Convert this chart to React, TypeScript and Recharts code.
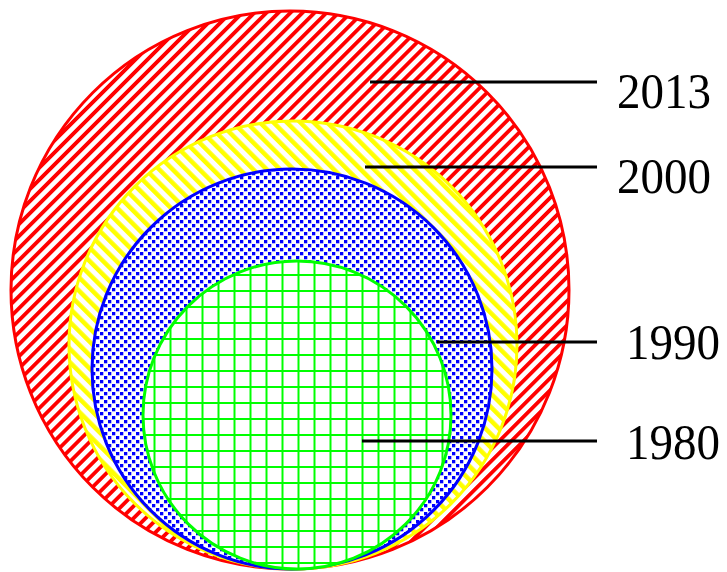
import React from 'react';
import { ScatterChart, Scatter, XAxis, YAxis, ZAxis } from 'recharts';

// ---- data ----
const YEARS = ['2013', '2000', '1990', '1980'];
const RADIUS = [279, 224, 200, 154];          // bubble radius (value units)
const CENTER_X = [290, 293, 292, 297];        // bubble centre along x (value units)
const BASE_Y = 3;                              // all bubbles rest on this baseline
const FILLS = ['url(#pRed)', 'url(#pYellow)', 'url(#pBlue)', 'url(#pGreen)'];
const STROKES = ['#ff0000', '#ffff00', '#0000ff', '#00ff00'];

// label leader lines (value units)
const LEADER_Y = [490, 405, 230, 131];
const LEADER_START = [370, 365, 437, 362];
const LEADER_END = 597;
const LABEL_X = [617, 617, 626, 626];
const LABEL_Y = [464, 379, 213, 113];

const W = 727;
const H = 572;
const MAX_R = Math.max(...RADIUS);

const bubbles = YEARS.map((year, i) => ({
  year,
  x: CENTER_X[i],
  y: BASE_Y + RADIUS[i],
  z: RADIUS[i] * RADIUS[i],
  fill: FILLS[i],
  stroke: STROKES[i],
}));

const leaders = YEARS.map((year, i) => [
  { x: LEADER_START[i], y: LEADER_Y[i] },
  { x: LEADER_END, y: LEADER_Y[i] },
]);

const labels = YEARS.map((year, i) => ({ year, x: LABEL_X[i], y: LABEL_Y[i] }));

const BubbleShape = (props: any) => {
  const { cx, cy, payload } = props;
  const r = props.width != null ? props.width / 2 : Math.sqrt((props.size || 0) / Math.PI);
  return (
    <g>
      <circle cx={cx} cy={cy} r={r} fill="#ffffff" />
      <circle cx={cx} cy={cy} r={r} fill={payload.fill} stroke={payload.stroke} strokeWidth={3} />
    </g>
  );
};

const EmptyShape = () => <g />;

const LabelShape = (props: any) => {
  const { cx, cy, payload } = props;
  return (
    <text
      x={cx}
      y={cy}
      fontFamily="'Liberation Serif', 'Times New Roman', serif"
      fontSize={51}
      textLength={94}
      lengthAdjust="spacingAndGlyphs"
      fill="#000"
    >
      {payload.year}
    </text>
  );
};

export default function App() {
  return (
    <div style={{ position: 'absolute', left: 0, top: 0, width: W, height: H, background: '#fff' }}>
      <ScatterChart width={W} height={H} margin={{ top: 0, right: 0, bottom: 0, left: 0 }}>
        <defs>
          <pattern id="pRed" patternUnits="userSpaceOnUse" width="8.5" height="8.5" patternTransform="rotate(45)">
            <rect width="8.5" height="8.5" fill="#ffffff" />
            <rect x="0" y="0" width="3.8" height="8.5" fill="#ff0000" />
          </pattern>
          <pattern id="pYellow" patternUnits="userSpaceOnUse" width="9.5" height="9.5" patternTransform="rotate(-45)">
            <rect width="9.5" height="9.5" fill="#ffffff" />
            <rect x="0" y="0" width="4.5" height="9.5" fill="#ffff00" />
          </pattern>
          <pattern id="pBlue" patternUnits="userSpaceOnUse" width="8" height="8">
            <rect width="8" height="8" fill="#ffffff" />
            <rect x="0" y="0" width="3.3" height="3.3" fill="#0000ff" />
            <rect x="4" y="4" width="3.3" height="3.3" fill="#0000ff" />
          </pattern>
          <pattern id="pGreen" patternUnits="userSpaceOnUse" x="9.5" y="2" width="16" height="16">
            <rect width="16" height="16" fill="#ffffff" />
            <rect x="0" y="0" width="2" height="16" fill="#00ff00" />
            <rect x="0" y="0" width="16" height="2" fill="#00ff00" />
          </pattern>
        </defs>
        <XAxis type="number" dataKey="x" domain={[0, W]} hide />
        <YAxis type="number" dataKey="y" domain={[0, H]} hide />
        <ZAxis type="number" dataKey="z" domain={[0, MAX_R * MAX_R]} range={[0, Math.PI * MAX_R * MAX_R]} />
        <Scatter data={bubbles} shape={BubbleShape} isAnimationActive={false} />
        {leaders.map((pts, i) => (
          <Scatter
            key={YEARS[i]}
            data={pts}
            fill="#000"
            shape={EmptyShape}
            line={{ stroke: '#000', strokeWidth: 3 }}
            isAnimationActive={false}
          />
        ))}
        <Scatter data={labels} shape={LabelShape} isAnimationActive={false} />
      </ScatterChart>
    </div>
  );
}
